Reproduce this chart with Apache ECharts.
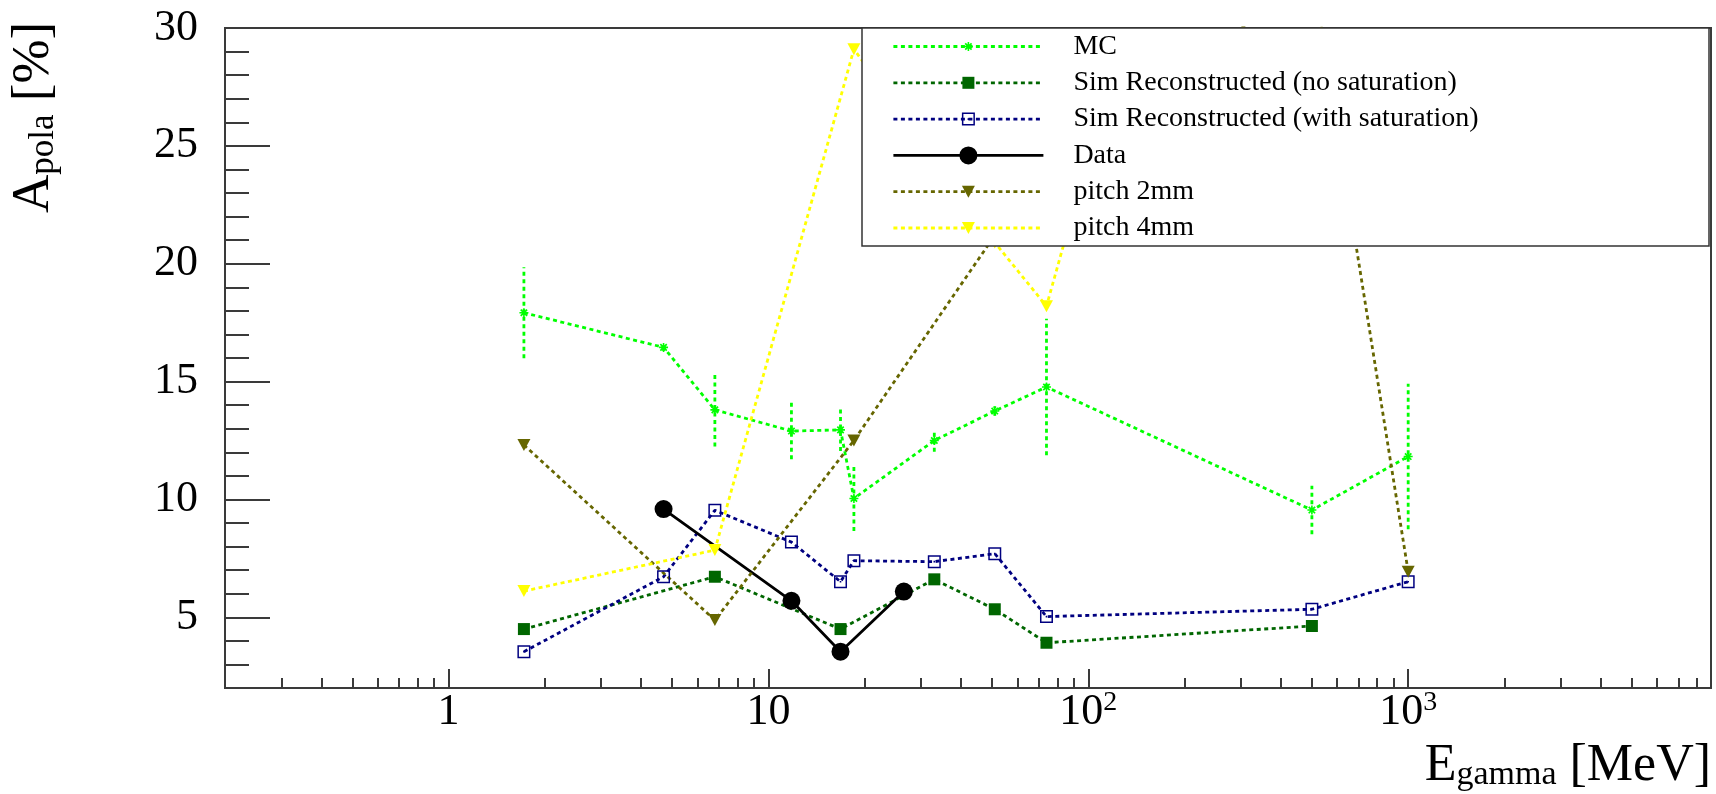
<!DOCTYPE html>
<html>
<head>
<meta charset="utf-8">
<script src="https://cdn.jsdelivr.net/npm/echarts@6/dist/echarts.min.js"></script>
<style>
  html, body { margin: 0; padding: 0; background: #fff; }
  #chart { width: 1716px; height: 794px; }
</style>
</head>
<body>
<div id="chart"></div>
<script>
// ---- values ----
const energiesMC = [1.72, 4.7, 6.8, 11.8, 16.8, 18.5, 33, 51, 74, 500, 1000];
const mcValues   = [17.92, 16.45, 13.8, 12.9, 12.95, 10.04, 12.5, 13.75, 14.77, 9.55, 11.82];
const mcErrors   = [1.93, 0.15, 1.55, 1.2, 0.9, 1.38, 0.48, 0.2, 2.9, 1.03, 3.09];

const energiesNoSat = [1.72, 6.8, 16.8, 33, 51, 74, 500];
const noSatValues   = [4.5, 6.72, 4.5, 6.61, 5.34, 3.92, 4.63];

const energiesSat = [1.72, 4.7, 6.8, 11.8, 16.8, 18.5, 33, 51, 74, 500, 1000];
const satValues   = [3.54, 6.72, 9.54, 8.19, 6.51, 7.4, 7.36, 7.7, 5.03, 5.34, 6.51];

const energiesData = [4.7, 11.8, 16.8, 26.5];
const dataValues   = [9.59, 5.7, 3.54, 6.09];

const energiesPitch2 = [1.72, 6.8, 18.5, 51, 500, 1000];
const pitch2Values   = [12.31, 4.88, 12.5, 21.2, 32.5, 6.93];

const energiesPitch4 = [1.72, 6.8, 18.5, 51, 74, 500];
const pitch4Values   = [6.11, 7.85, 29.1, 20.9, 18.2, 58.5];

const seriesNames = ['MC', 'Sim Reconstructed (no saturation)', 'Sim Reconstructed (with saturation)',
                     'Data', 'pitch 2mm', 'pitch 4mm'];

// axis ticks and labels
const xMajorTicks = [1, 10, 100, 1000];
const xMinorTicks = [0.3, 0.4, 0.5, 0.6, 0.7, 0.8, 0.9,
                     2, 3, 4, 5, 6, 7, 8, 9,
                     20, 30, 40, 50, 60, 70, 80, 90,
                     200, 300, 400, 500, 600, 700, 800, 900,
                     2000, 3000, 4000, 5000, 6000, 7000, 8000];
const yMajorTicks = [5, 10, 15, 20, 25, 30];
const yMinorTicks = [3, 4, 6, 7, 8, 9, 11, 12, 13, 14, 16, 17, 18, 19,
                     21, 22, 23, 24, 26, 27, 28, 29];

// ---- styling ----
const FONT = '"Liberation Serif", "Times New Roman", serif';
const COLORS = {
  mc: '#00ff00',
  noSat: '#006600',
  sat: '#000080',
  data: '#000000',
  pitch2: '#666600',
  pitch4: '#ffff00'
};
const AXIS_COLOR = '#3a3a3a';
const DASH = [4, 3.5];
const LINE_W = 2.8;

// marker shapes, all drawn inside a common 20x20 box
const BOX = 'M0 0M20 20';
const SYMBOLS = {
  star: 'path://' + BOX +
    'M9.2 5.5L10.8 5.5L10.8 14.5L9.2 14.5Z' +
    'M5.5 9.2L14.5 9.2L14.5 10.8L5.5 10.8Z' +
    'M6.2 7.4L7.4 6.2L13.8 12.6L12.6 13.8Z' +
    'M12.6 6.2L13.8 7.4L7.4 13.8L6.2 12.6Z',
  square: 'path://' + BOX + 'M4 4L16 4L16 16L4 16Z',
  openSquare: 'path://' + BOX +
    'M3.5 3.5L16.5 3.5L16.5 16.5L3.5 16.5Z' +
    'M5 5L5 15L15 15L15 5Z' +
    'M9.2 9.2L10.8 9.2L10.8 10.8L9.2 10.8Z',
  circle: 'path://' + BOX + 'M1 10A9 9 0 1 1 19 10A9 9 0 1 1 1 10Z',
  triangleDown: 'path://' + BOX + 'M3.5 4L16.5 4L10 16Z'
};

function pairs(xs, ys) {
  return xs.map((x, i) => [x, ys[i]]);
}

function lineSeries(name, xs, ys, color, symbol, solid) {
  return {
    name: name,
    type: 'line',
    data: pairs(xs, ys),
    symbol: symbol,
    symbolSize: 20,
    symbolKeepAspect: true,
    showAllSymbol: true,
    clip: true,
    lineStyle: { color: color, width: LINE_W, type: solid ? 'solid' : DASH },
    itemStyle: { color: color, borderWidth: 0 },
    emphasis: { disabled: true },
    animation: false
  };
}

const errorBarSeries = {
  name: 'MC uncertainty',
  type: 'custom',
  data: energiesMC.map((x, i) => [x, mcValues[i], mcErrors[i]]),
  encode: { x: 0, y: 1 },
  clip: true,
  animation: false,
  renderItem: function (params, api) {
    const x = api.value(0), y = api.value(1), e = api.value(2);
    const lo = api.coord([x, y - e]);
    const hi = api.coord([x, y + e]);
    return {
      type: 'line',
      shape: { x1: lo[0], y1: lo[1], x2: hi[0], y2: hi[1] },
      style: { stroke: COLORS.mc, lineWidth: LINE_W, lineDash: DASH }
    };
  }
};

function xLabel(v) {
  const p = Math.round(Math.log10(v));
  if (p <= 1) return '{b|' + Math.round(v) + '}';
  return '{b|10}{s|' + p + '}';
}

const xLog = { type: 'log', logBase: 10, min: 0.2, max: 8845, gridIndex: 0, position: 'bottom' };
const yLin = { type: 'value', min: 2, max: 30, gridIndex: 0, position: 'left' };

const option = {
  backgroundColor: '#ffffff',
  animation: false,
  grid: {
    left: 225, right: 5, top: 28, bottom: 106,
    show: true, borderColor: AXIS_COLOR, borderWidth: 2,
    backgroundColor: 'transparent',
    containLabel: false, outerBoundsMode: 'none'
  },
  xAxis: [
    Object.assign({}, xLog, {
      axisLine: { show: false },
      splitLine: { show: false },
      axisTick: { show: true, inside: true, length: 19, customValues: xMajorTicks,
                  lineStyle: { color: AXIS_COLOR, width: 2 } },
      axisLabel: {
        show: true, customValues: xMajorTicks, formatter: xLabel, margin: 1,
        color: '#000', fontFamily: FONT, fontSize: 44, lineHeight: 46,
        rich: {
          b: { fontFamily: FONT, fontSize: 44, lineHeight: 46, color: '#000' },
          s: { fontFamily: FONT, fontSize: 28, lineHeight: 18, verticalAlign: 'top', color: '#000' }
        }
      }
    }),
    Object.assign({}, xLog, {
      axisLine: { show: false },
      splitLine: { show: false },
      axisTick: { show: true, inside: true, length: 10, customValues: xMinorTicks,
                  lineStyle: { color: AXIS_COLOR, width: 2 } },
      axisLabel: { show: false }
    })
  ],
  yAxis: [
    Object.assign({}, yLin, {
      axisLine: { show: false },
      splitLine: { show: false },
      axisTick: { show: true, inside: true, length: 45, customValues: yMajorTicks,
                  lineStyle: { color: AXIS_COLOR, width: 2 } },
      axisLabel: { show: true, customValues: yMajorTicks, margin: 27,
                   color: '#000', fontFamily: FONT, fontSize: 44 }
    }),
    Object.assign({}, yLin, {
      axisLine: { show: false },
      splitLine: { show: false },
      axisTick: { show: true, inside: true, length: 24, customValues: yMinorTicks,
                  lineStyle: { color: AXIS_COLOR, width: 2 } },
      axisLabel: { show: false }
    })
  ],
  legend: {
    data: seriesNames,
    orient: 'vertical',
    left: 892, top: 32.5,
    padding: 0,
    itemGap: 8.3,
    itemWidth: 150,
    itemHeight: 25,
    selectedMode: false,
    lineStyle: { width: LINE_W },
    textStyle: { fontFamily: FONT, fontSize: 28, lineHeight: 28, color: '#000', padding: [0, 0, 0, 25] },
    z: 200
  },
  graphic: [
    {
      type: 'rect', z: 100,
      shape: { x: 862, y: 28, width: 847, height: 218 },
      style: { fill: '#ffffff', stroke: '#333333', lineWidth: 1.5 }
    },
    {
      type: 'text', z: 100,
      x: 32, y: 213, rotation: Math.PI / 2,
      style: {
        text: '{m|A}{s|pola}{m| [%]}',
        align: 'left', verticalAlign: 'middle', fill: '#000',
        rich: {
          m: { fontFamily: FONT, fontSize: 53, lineHeight: 58, verticalAlign: 'bottom', fill: '#000' },
          s: { fontFamily: FONT, fontSize: 35, lineHeight: 20, verticalAlign: 'bottom', fill: '#000' }
        }
      }
    },
    {
      type: 'text', z: 100,
      x: 1711, y: 764.5,
      style: {
        text: '{m|E}{s|gamma}{m| [MeV]}',
        align: 'right', verticalAlign: 'middle', fill: '#000',
        rich: {
          m: { fontFamily: FONT, fontSize: 52, lineHeight: 56, verticalAlign: 'bottom', fill: '#000' },
          s: { fontFamily: FONT, fontSize: 34, lineHeight: 20, verticalAlign: 'bottom', fill: '#000' }
        }
      }
    }
  ],
  series: [
    errorBarSeries,
    lineSeries(seriesNames[0], energiesMC, mcValues, COLORS.mc, SYMBOLS.star, false),
    lineSeries(seriesNames[1], energiesNoSat, noSatValues, COLORS.noSat, SYMBOLS.square, false),
    lineSeries(seriesNames[2], energiesSat, satValues, COLORS.sat, SYMBOLS.openSquare, false),
    lineSeries(seriesNames[3], energiesData, dataValues, COLORS.data, SYMBOLS.circle, true),
    lineSeries(seriesNames[4], energiesPitch2, pitch2Values, COLORS.pitch2, SYMBOLS.triangleDown, false),
    lineSeries(seriesNames[5], energiesPitch4, pitch4Values, COLORS.pitch4, SYMBOLS.triangleDown, false)
  ]
};

const chart = echarts.init(document.getElementById('chart'), null, { renderer: 'canvas' });
chart.setOption(option);
</script>
</body>
</html>
